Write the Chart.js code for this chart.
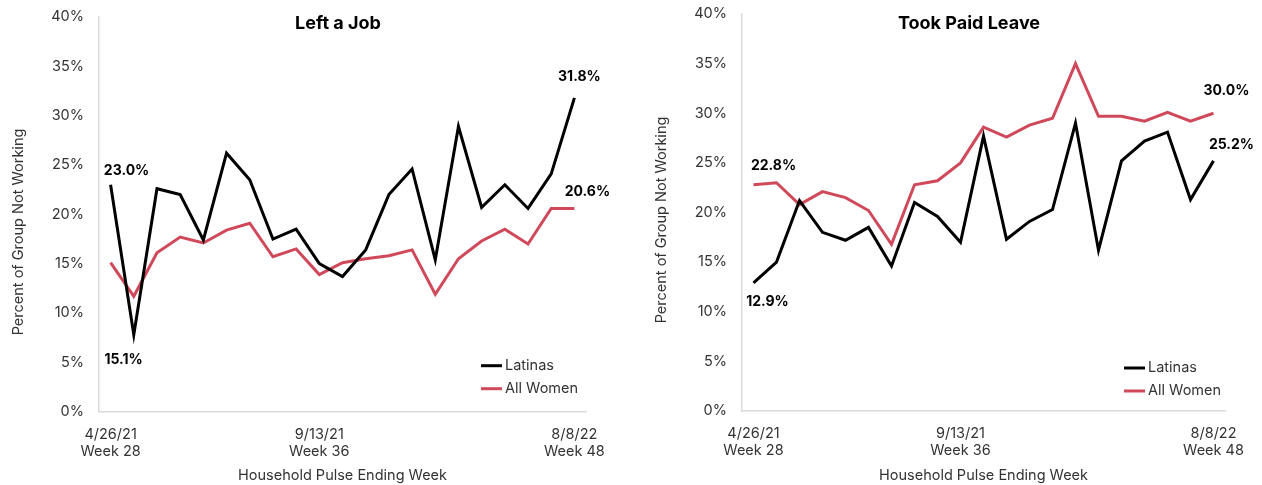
<!DOCTYPE html>
<html>
<head>
<meta charset="utf-8">
<title>Latinas vs All Women - Not Working</title>
<script src="https://cdn.jsdelivr.net/npm/chart.js@4.4.1/dist/chart.umd.min.js"></script>
<style>
  body { margin: 0; background: #fff; }
  #left { position: absolute; left: 0; top: 0; }
  #right { position: absolute; left: 643px; top: 0; }
</style>
</head>
<body>
<canvas id="left" width="631" height="485"></canvas>
<canvas id="right" width="619" height="485"></canvas>
<script>
// pulse weeks 28..48
const weeks = ['28', '29', '30', '31', '32', '33', '34', '35', '36', '37', '38',
  '39', '40', '41', '42', '43', '44', '45', '46', '47', '48'];
// only three categories get a tick label
const tickLabels = {
  0: ['4/26/21', 'Week 28'],
  9: ['9/13/21', 'Week 36'],
  20: ['8/8/22', 'Week 48']
};
const yTicks = [0, 5, 10, 15, 20, 25, 30, 35, 40];

const leftLatinas = [23.0, 7.8, 22.6, 22.0, 17.4, 26.2, 23.5, 17.5, 18.5, 15.0, 13.7,
  16.4, 22.0, 24.6, 15.4, 28.9, 20.7, 23.0, 20.6, 24.1, 31.8];
const leftAllWomen = [15.1, 11.7, 16.1, 17.7, 17.1, 18.4, 19.1, 15.7, 16.5, 13.9, 15.1,
  15.5, 15.8, 16.4, 11.9, 15.5, 17.3, 18.5, 17.0, 20.6, 20.6];
const rightLatinas = [12.9, 15.0, 21.2, 18.0, 17.2, 18.5, 14.6, 21.0, 19.6, 17.0, 27.7,
  17.3, 19.1, 20.3, 29.0, 16.2, 25.2, 27.2, 28.1, 21.3, 25.2];
const rightAllWomen = [22.8, 23.0, 20.8, 22.1, 21.5, 20.2, 16.8, 22.8, 23.2, 25.0, 28.6,
  27.6, 28.8, 29.5, 35.0, 29.7, 29.7, 29.2, 30.1, 29.2, 30.0];

const BLACK = '#000000';
const RED = '#d0495b';
const GREY_TEXT = '#333333';
const AXIS_LINE = '#d9d9d9';
const FONT = 'Inter';

// title, y-axis title, legend and end labels drawn on top of the chart
const chartText = {
  id: 'chartText',
  afterDatasetsDraw(chart, args, opts) {
    const ctx = chart.ctx;
    const area = chart.chartArea;
    ctx.save();
    ctx.textAlign = 'center';
    ctx.textBaseline = 'middle';

    ctx.fillStyle = BLACK;
    ctx.font = 'bold 18px ' + FONT;
    ctx.fillText(opts.title, opts.titleX, 24);

    ctx.save();
    ctx.fillStyle = GREY_TEXT;
    ctx.font = '14.5px ' + FONT;
    ctx.translate(18.5, opts.yTitleY);
    ctx.rotate(-Math.PI / 2);
    ctx.fillText('Percent of Group Not Working', 0, 0);
    ctx.restore();

    // legend
    ctx.textAlign = 'left';
    ctx.font = '14.5px ' + FONT;
    chart.data.datasets.forEach((ds, i) => {
      const x = area.left + 382;
      const y = area.bottom - opts.legendBottom + i * 23;
      ctx.strokeStyle = ds.borderColor;
      ctx.lineWidth = 3;
      ctx.beginPath();
      ctx.moveTo(x, y);
      ctx.lineTo(x + 21, y);
      ctx.stroke();
      ctx.fillStyle = GREY_TEXT;
      ctx.fillText(ds.label, x + 24, y);
    });

    // value labels at chosen points
    ctx.textAlign = 'center';
    ctx.fillStyle = BLACK;
    ctx.font = 'bold 14px ' + FONT;
    opts.labels.forEach(l => {
      const pt = chart.getDatasetMeta(l.ds).data[l.i];
      const v = chart.data.datasets[l.ds].data[l.i];
      ctx.fillText(v.toFixed(1) + '%', pt.x + l.dx, pt.y + l.dy);
    });
    ctx.restore();
  }
};

function makeChart(id, latinas, allWomen, cfg) {
  return new Chart(document.getElementById(id), {
    type: 'line',
    data: {
      labels: weeks,
      datasets: [
        { label: 'Latinas', data: latinas, borderColor: BLACK, borderWidth: 3, pointRadius: 0, tension: 0 },
        { label: 'All Women', data: allWomen, borderColor: RED, borderWidth: 3, pointRadius: 0, tension: 0 }
      ]
    },
    options: {
      responsive: false,
      animation: false,
      layout: { padding: { left: 0, top: cfg.top, right: cfg.right, bottom: 0 } },
      plugins: {
        legend: { display: false },
        tooltip: { enabled: false },
        chartText: cfg.text
      },
      scales: {
        x: {
          type: 'category',
          offset: true,
          afterFit: s => { s.height = cfg.xHeight; },
          grid: { display: false, drawTicks: false },
          border: { color: AXIS_LINE, width: 1.5 },
          ticks: {
            autoSkip: false,
            maxRotation: 0,
            padding: 14,
            color: GREY_TEXT,
            font: { family: FONT, size: 14.5, lineHeight: 1.2 },
            callback: (v, i) => tickLabels[i] || ''
          },
          title: {
            display: true,
            text: 'Household Pulse Ending Week',
            color: GREY_TEXT,
            font: { family: FONT, size: 14.5 },
            padding: { top: 9, bottom: 1 }
          }
        },
        y: {
          min: yTicks[0],
          max: yTicks[yTicks.length - 1],
          afterBuildTicks: s => { s.ticks = yTicks.map(v => ({ value: v })); },
          // fixed width; drop the label overhang so layout padding sets the top
          afterFit: s => { s.width = 99; s.paddingTop = 0; s.paddingBottom = 0; },
          grid: { display: false, drawTicks: false },
          border: { color: AXIS_LINE, width: 1.5 },
          ticks: {
            padding: 15,
            color: GREY_TEXT,
            font: { family: FONT, size: 14.5 },
            callback: v => v + '%'
          }
        }
      }
    },
    plugins: [chartText]
  });
}

makeChart('left', leftLatinas, leftAllWomen, {
  top: 17,
  right: 45,
  xHeight: 73.3,
  text: {
    title: 'Left a Job',
    titleX: 338,
    yTitleY: 232,
    legendBottom: 46,
    labels: [
      { ds: 0, i: 0, dx: 16, dy: -14 },
      { ds: 1, i: 0, dx: 13, dy: 97 },
      { ds: 0, i: 20, dx: 5, dy: -21 },
      { ds: 1, i: 20, dx: 13, dy: -17 }
    ]
  }
});

makeChart('right', rightLatinas, rightAllWomen, {
  top: 14,
  right: 37,
  xHeight: 74,
  text: {
    title: 'Took Paid Leave',
    titleX: 326,
    yTitleY: 220,
    legendBottom: 43,
    labels: [
      { ds: 1, i: 0, dx: 20, dy: -19 },
      { ds: 0, i: 0, dx: 14, dy: 19 },
      { ds: 1, i: 20, dx: 13, dy: -22 },
      { ds: 0, i: 20, dx: 18, dy: -16 }
    ]
  }
});
</script>
</body>
</html>
